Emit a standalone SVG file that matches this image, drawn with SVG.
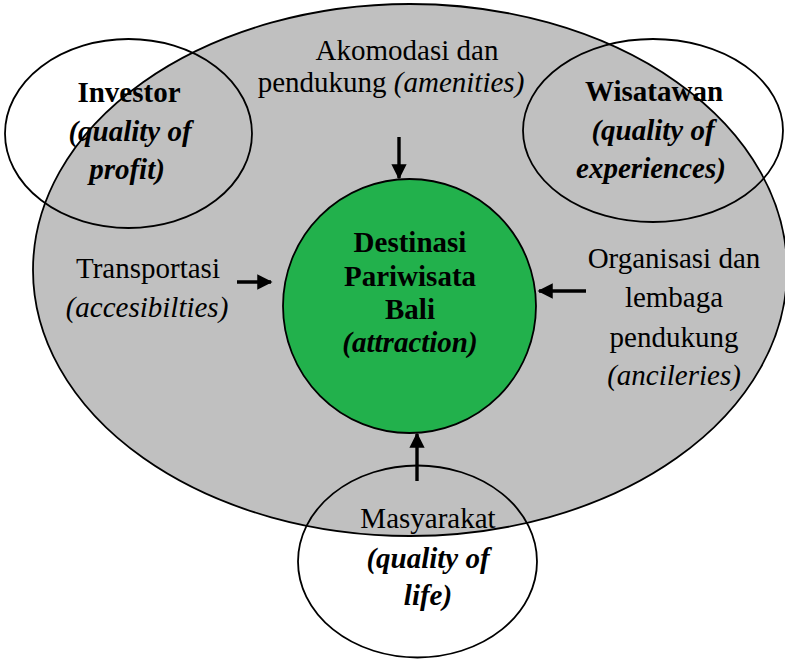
<svg xmlns="http://www.w3.org/2000/svg" width="785" height="659" viewBox="0 0 785 659">
<style>
.t{font-family:"Liberation Serif","Times New Roman",serif;font-size:29px;fill:#000;text-anchor:middle}
.b{font-weight:bold}
.i{font-style:italic}
.ring{fill:none;stroke:#000;stroke-width:1.8}
.arr{stroke:#000;stroke-width:3.4;fill:none;marker-end:url(#ah)}
</style>
<defs>
<marker id="ah" viewBox="0 0 10 10" refX="9" refY="5" markerWidth="5" markerHeight="4.5" orient="auto" markerUnits="strokeWidth">
<path d="M0,0 L10,5 L0,10 Z" fill="#000"/>
</marker>
</defs>
<rect width="785" height="659" fill="#fff"/>
<g id="env">
<ellipse cx="410" cy="270" rx="377" ry="266" fill="#C0C0C0" stroke="#000" stroke-width="1.8"/>
<text class="t" x="407" y="60">Akomodasi dan</text>
<text class="t" x="391" y="92">pendukung <tspan class="i">(amenities)</tspan></text>
<text class="t" x="148" y="278">Transportasi</text>
<text class="t i" x="147" y="317">(accesibilties)</text>
<text class="t" x="674" y="268">Organisasi dan</text>
<text class="t" x="674" y="307">lembaga</text>
<text class="t" x="674" y="347">pendukung</text>
<text class="t i" x="674" y="385">(ancileries)</text>
</g>
<g id="destinasi">
<ellipse cx="409.5" cy="306" rx="126.5" ry="127" fill="#22B14C" stroke="#000" stroke-width="1.8"/>
<text class="t b" x="410" y="252">Destinasi</text>
<text class="t b" x="410" y="286">Pariwisata</text>
<text class="t b" x="410" y="319">Bali</text>
<text class="t b i" x="410" y="352">(attraction)</text>
</g>
<g id="investor">
<ellipse class="ring" cx="128.5" cy="133.5" rx="123.5" ry="94.5"/>
<text class="t b" x="129" y="102">Investor</text>
<text class="t b i" x="130" y="141">(quality of</text>
<text class="t b i" x="127" y="179">profit)</text>
</g>
<g id="wisatawan">
<ellipse class="ring" cx="653" cy="130.5" rx="130" ry="91.5"/>
<text class="t b" x="654" y="101">Wisatawan</text>
<text class="t b i" x="653" y="140">(quality of</text>
<text class="t b i" x="651" y="178">experiences)</text>
</g>
<g id="masyarakat">
<ellipse class="ring" cx="417.5" cy="561.5" rx="119.5" ry="96"/>
<text class="t" x="428" y="528">Masyarakat</text>
<text class="t b i" x="428" y="568">(quality of</text>
<text class="t b i" x="428" y="605">life)</text>
</g>
<g id="connectors">
<line class="arr" x1="399" y1="137" x2="399" y2="178"/>
<line class="arr" x1="237" y1="282" x2="271" y2="282"/>
<line class="arr" x1="586" y1="291" x2="539" y2="291"/>
<line class="arr" x1="417" y1="481" x2="417" y2="434"/>
</g>
</svg>
